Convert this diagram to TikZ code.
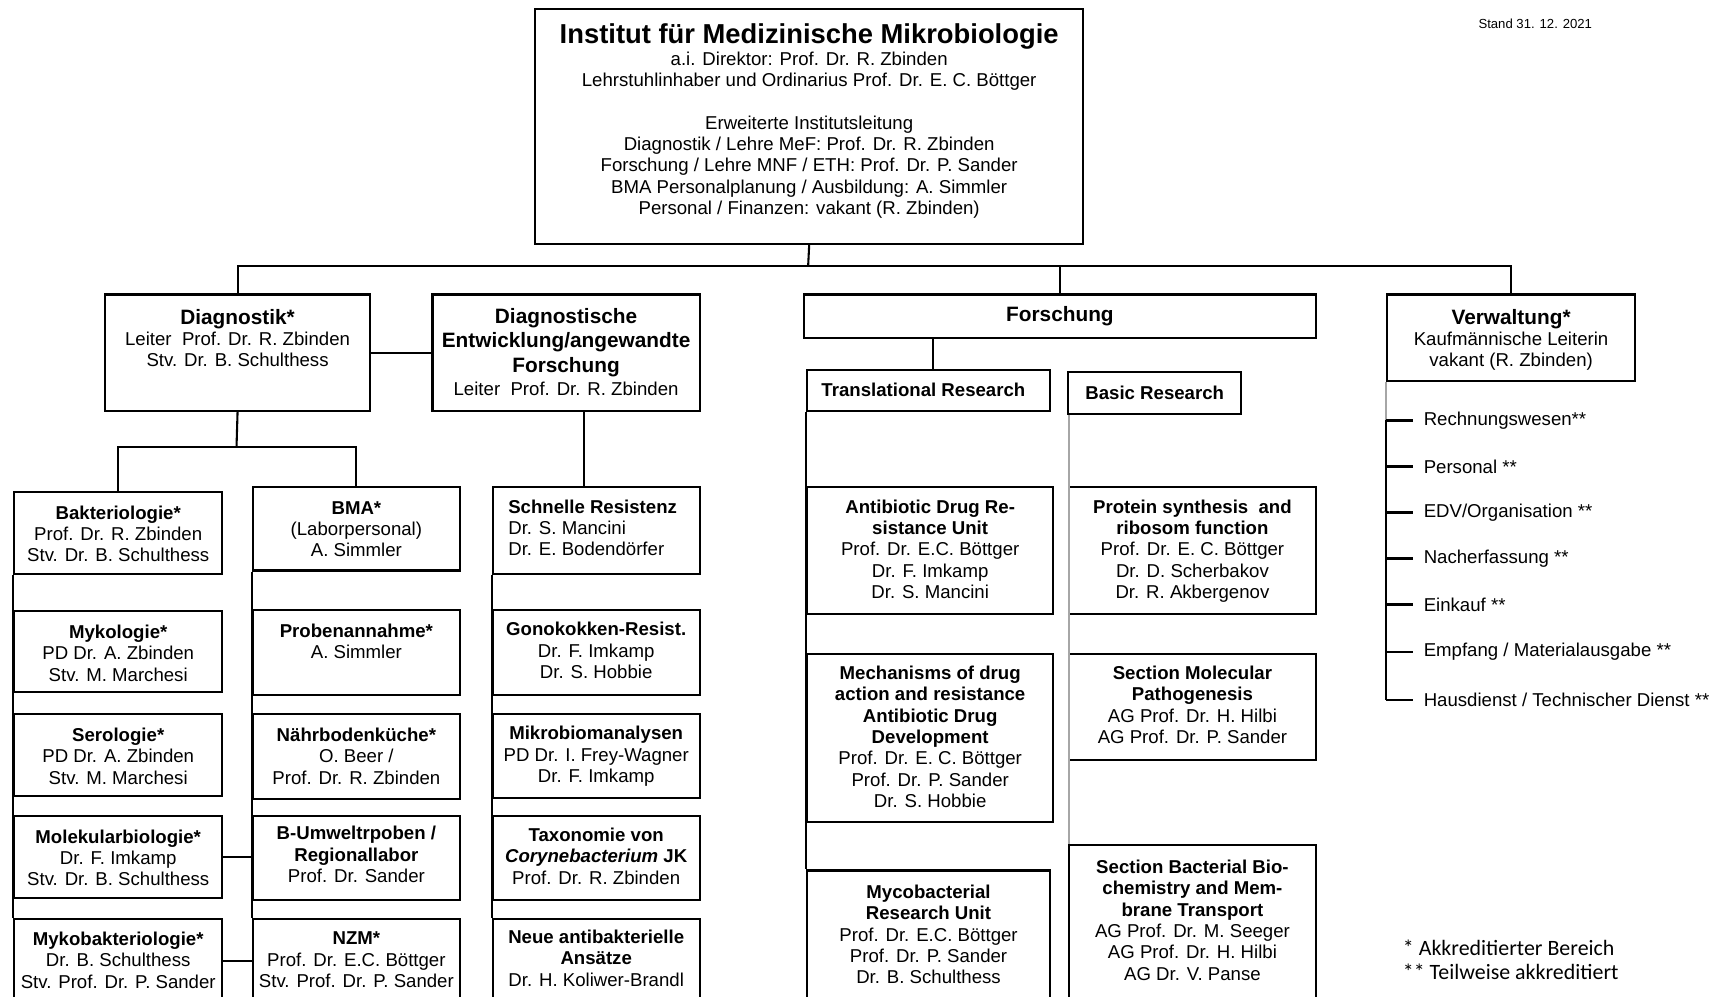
\documentclass[tikz,border=0pt]{standalone}
\usepackage{fontspec}
\setmainfont{Liberation Sans}
\newfontfamily\legendfont{Carlito}
\begin{document}
\begin{tikzpicture}[x=1pt,y=-1pt,
  box/.style={draw, line width=1.9pt, anchor=north west, inner sep=0pt, rectangle},
  tx/.style={anchor=north, inner sep=0pt, align=center, font=\fontsize{17}{19.5}\selectfont},
  txl/.style={anchor=north west, inner sep=0pt, align=left, font=\fontsize{17}{19.5}\selectfont},
  item/.style={anchor=west, inner sep=0pt, font=\fontsize{17}{19.5}\selectfont},
  ln/.style={line width=1.9pt},
  gln/.style={line width=2pt, black!35},
  big/.style={font=\fontsize{19}{22}\selectfont\bfseries}
]
\useasboundingbox (0,0) rectangle (1568,910);
\clip (0,0) rectangle (1568,910);
\fill[white] (0,0) rectangle (1568,910);

% ---------- boxes ----------
\node[box, minimum width=500pt, minimum height=215pt] (top) at (488,7) {};
\node[box, minimum width=242pt, minimum height=106pt] (diag) at (95,268) {};
\node[box, minimum width=244pt, minimum height=106pt] (dent) at (394,268) {};
\node[box, minimum width=468pt, minimum height=40pt] (forsch) at (733,268) {};
\node[box, minimum width=226pt, minimum height=79pt] (verw) at (1266,268) {};

\node[box, minimum width=190pt, minimum height=75pt] (bakt) at (12,448) {};
\node[box, minimum width=190pt, minimum height=74pt] (myko) at (12,557) {};
\node[box, minimum width=190pt, minimum height=75pt] (sero) at (12,651) {};
\node[box, minimum width=190pt, minimum height=75pt] (molek) at (12,744) {};
\node[box, minimum width=190pt, minimum height=78pt] (mykob) at (12,838) {};

\node[box, minimum width=189pt, minimum height=76pt] (bma) at (230,444) {};
\node[box, minimum width=189pt, minimum height=78pt] (proben) at (230,556) {};
\node[box, minimum width=189pt, minimum height=78pt] (naehr) at (230,651) {};
\node[box, minimum width=189pt, minimum height=77pt] (bumw) at (230,744) {};
\node[box, minimum width=189pt, minimum height=78pt] (nzm) at (230,838) {};

\node[box, minimum width=189pt, minimum height=79pt] (schnell) at (449,444) {};
\node[box, minimum width=189pt, minimum height=78pt] (gono) at (449,556) {};
\node[box, minimum width=189pt, minimum height=77pt] (mikro) at (449,651) {};
\node[box, minimum width=189pt, minimum height=77pt] (taxo) at (449,744) {};
\node[box, minimum width=189pt, minimum height=78pt] (neue) at (449,838) {};

\node[box, minimum width=222pt, minimum height=37pt] (transl) at (736,337) {};
\node[box, minimum width=158pt, minimum height=38pt] (basic) at (974,339) {};

\node[box, minimum width=225pt, minimum height=116pt] (adru) at (736,444) {};
\node[box, minimum width=225pt, minimum height=154pt] (mech) at (736,596) {};
\node[box, minimum width=222pt, minimum height=140pt] (mycob) at (736,794) {};

\node[box, minimum width=226pt, minimum height=116pt] (prot) at (975,444) {};
\node[box, minimum width=226pt, minimum height=97pt] (secmol) at (975,596) {};
\node[box, minimum width=226pt, minimum height=160pt] (secbac) at (975,771) {};

% ---------- connectors ----------
\coordinate (tj) at (738,243);
\coordinate (dj) at (216,408);
\draw[ln] (top.south) -- (tj);
\draw[ln] (diag.north) |- (tj) -| (verw.north);
\draw[ln] (forsch.north) -- (forsch.north |- tj);
\draw[ln] (diag.east) -- (dent.west);
\draw[ln] (diag.south) -- (dj);
\draw[ln] (bakt.north) |- (dj) -| (bma.north);
\draw[ln] ([xshift=16pt]dent.south) -- ([xshift=16pt]dent.south |- schnell.north);
\draw[ln] ([xshift=4pt]transl.north) -- ([xshift=4pt]transl.north |- forsch.south);

\draw[ln] (bakt.south west) -- (mykob.north west);
\draw[ln] (bma.south west) -- (nzm.north west);
\draw[ln] (schnell.south west) -- (neue.north west);
\draw[ln] (transl.south west) -- (mycob.north west);
\draw[gln] ([xshift=2pt]basic.south west) -- ([xshift=1pt]secbac.north west);
\draw[ln] (molek.east) -- (molek.east -| bumw.west);
\draw[ln] (mykob.east) -- (mykob.east -| nzm.west);

% Verwaltung list
\coordinate (v1) at (1266,384);
\coordinate (v2) at (1266,426);
\coordinate (v3) at (1266,468);
\coordinate (v4) at (1266,510);
\coordinate (v5) at (1266,552);
\coordinate (v6) at (1266,595);
\coordinate (v7) at (1266,639);
\draw[gln] (verw.south west) -- (v1);
\draw[ln] (v1) -- (v7);
\node[item] (i1) at (1300,384) {Rechnungswesen**};
\node[item] (i2) at (1300,426) {Personal **};
\node[item] (i3) at (1300,468) {EDV/Organisation **};
\node[item] (i4) at (1300,510) {Nacherfassung **};
\node[item] (i5) at (1300,552) {Einkauf **};
\node[item] (i6) at (1300,595) {Empfang / Materialausgabe **};
\node[item] (i7) at (1300,639) {Hausdienst / Technischer Dienst **};
\foreach \v/\i in {v1/i1,v2/i2,v3/i3,v4/i4,v5/i5,v6/i6,v7/i7}
  \draw[ln] (\v) -- ([xshift=-10pt]\i.west);

% ---------- texts ----------
\node[anchor=north, inner sep=0pt, font=\fontsize{25}{28}\selectfont\bfseries] (top-h) at ([yshift=-14pt]top.north) {Institut für Medizinische Mikrobiologie};
\node[tx] (top-t) at ([yshift=-40pt]top.north) {a.i. Direktor: Prof. Dr. R. Zbinden\\Lehrstuhlinhaber und Ordinarius Prof. Dr. E. C. Böttger\\[19.5pt]Erweiterte Institutsleitung\\Diagnostik / Lehre MeF: Prof. Dr. R. Zbinden\\Forschung / Lehre MNF / ETH: Prof. Dr. P. Sander\\BMA Personalplanung / Ausbildung: A. Simmler\\Personal / Finanzen: vakant (R. Zbinden)};

\node[tx] (diag-t) at ([yshift=-14pt]diag.north) {{\fontsize{19}{22}\selectfont\bfseries Diagnostik*}\\Leiter\ \ Prof. Dr. R. Zbinden\\Stv. Dr. B. Schulthess};
\node[tx] (dent-t) at ([yshift=-13pt]dent.north) {{\fontsize{19}{22}\selectfont\bfseries Diagnostische}\\[3pt]{\fontsize{19}{22}\selectfont\bfseries Entwicklung/angewandte}\\[3pt]{\fontsize{19}{22}\selectfont\bfseries Forschung}\\[1.5pt]Leiter\ \ Prof. Dr. R. Zbinden};
\node[anchor=center, inner sep=0pt, big] (forsch-t) at (forsch.center) {Forschung};
\node[tx] (verw-t) at ([yshift=-14pt]verw.north) {{\fontsize{19}{22}\selectfont\bfseries Verwaltung*}\\Kaufmännische Leiterin\\vakant (R. Zbinden)};

\node[tx] (bakt-t) at ([yshift=-13.5pt]bakt.north) {\textbf{Bakteriologie*}\\Prof. Dr. R. Zbinden\\Stv. Dr. B. Schulthess};
\node[tx] (myko-t) at ([yshift=-13.5pt]myko.north) {\textbf{Mykologie*}\\PD Dr. A. Zbinden\\Stv. M. Marchesi};
\node[tx] (sero-t) at ([yshift=-13.5pt]sero.north) {\textbf{Serologie*}\\PD Dr. A. Zbinden\\Stv. M. Marchesi};
\node[tx] (molek-t) at ([yshift=-13.5pt]molek.north) {\textbf{Molekularbiologie*}\\Dr. F. Imkamp\\Stv. Dr. B. Schulthess};
\node[tx] (mykob-t) at ([yshift=-13pt]mykob.north) {\textbf{Mykobakteriologie*}\\Dr. B. Schulthess\\Stv. Prof. Dr. P. Sander};

\node[tx] (bma-t) at ([yshift=-13.5pt]bma.north) {\textbf{BMA*}\\(Laborpersonal)\\A. Simmler};
\node[tx] (proben-t) at ([yshift=-13.5pt]proben.north) {\textbf{Probenannahme*}\\A. Simmler};
\node[tx] (naehr-t) at ([yshift=-13.5pt]naehr.north) {\textbf{Nährbodenküche*}\\O. Beer /\\Prof. Dr. R. Zbinden};
\node[tx] (bumw-t) at ([yshift=-10.5pt]bumw.north) {\textbf{B-Umweltrpoben /}\\\textbf{Regionallabor}\\Prof. Dr. Sander};
\node[tx] (nzm-t) at ([yshift=-13pt]nzm.north) {\textbf{NZM*}\\Prof. Dr. E.C. Böttger\\Stv. Prof. Dr. P. Sander};

\node[txl] (schnell-t) at ([xshift=15pt,yshift=-12pt]schnell.north west) {\textbf{Schnelle Resistenz}\\Dr. S. Mancini\\Dr. E. Bodendörfer};
\node[tx] (gono-t) at ([yshift=-12pt]gono.north) {\textbf{Gonokokken-Resist.}\\Dr. F. Imkamp\\Dr. S. Hobbie};
\node[tx] (mikro-t) at ([yshift=-12pt]mikro.north) {\textbf{Mikrobiomanalysen}\\PD Dr. I. Frey-Wagner\\Dr. F. Imkamp};
\node[tx] (taxo-t) at ([yshift=-12pt]taxo.north) {\textbf{Taxonomie von}\\\textbf{\textit{Corynebacterium} JK}\\Prof. Dr. R. Zbinden};
\node[tx] (neue-t) at ([yshift=-11pt]neue.north) {\textbf{Neue antibakterielle}\\\textbf{Ansätze}\\Dr. H. Koliwer-Brandl};

\node[anchor=west, inner sep=0pt, font=\fontsize{17}{19.5}\selectfont\bfseries] (transl-t) at ([xshift=14pt]transl.west) {Translational Research};
\node[anchor=west, inner sep=0pt, font=\fontsize{17}{19.5}\selectfont\bfseries] (basic-t) at ([xshift=17pt]basic.west) {Basic Research};

\node[tx] (adru-t) at ([yshift=-12pt]adru.north) {\textbf{Antibiotic Drug Re-}\\\textbf{sistance Unit}\\Prof. Dr. E.C. Böttger\\Dr. F. Imkamp\\Dr. S. Mancini};
\node[tx] (mech-t) at ([yshift=-12pt]mech.north) {\textbf{Mechanisms of drug}\\\textbf{action and resistance}\\\textbf{Antibiotic Drug}\\\textbf{Development}\\Prof. Dr. E. C. Böttger\\Prof. Dr. P. Sander\\Dr. S. Hobbie};
\node[tx] (mycob-t) at ([yshift=-14pt]mycob.north) {\textbf{Mycobacterial}\\\textbf{Research Unit}\\Prof. Dr. E.C. Böttger\\Prof. Dr. P. Sander\\Dr. B. Schulthess};

\node[tx] (prot-t) at ([yshift=-12pt]prot.north) {\textbf{Protein synthesis\ \ and}\\\textbf{ribosom function}\\Prof. Dr. E. C. Böttger\\Dr. D. Scherbakov\\Dr. R. Akbergenov};
\node[tx] (secmol-t) at ([yshift=-12pt]secmol.north) {\textbf{Section Molecular}\\\textbf{Pathogenesis}\\AG Prof. Dr. H. Hilbi\\AG Prof. Dr. P. Sander};
\node[tx] (secbac-t) at ([yshift=-14pt]secbac.north) {\textbf{Section Bacterial Bio-}\\\textbf{chemistry and Mem-}\\\textbf{brane Transport}\\AG Prof. Dr. M. Seeger\\AG Prof. Dr. H. Hilbi\\AG Dr. V. Panse};

% ---------- notes ----------
\node[anchor=west, inner sep=0pt, font=\fontsize{12}{14}\selectfont] (stand) at (1350,22) {Stand 31. 12. 2021};
\node[anchor=north west, inner sep=0pt, align=left, font=\legendfont\fontsize{20}{22}\selectfont] (legend) at (1281,858) {* Akkreditierter Bereich\\** Teilweise akkreditiert};
\end{tikzpicture}
\end{document}
